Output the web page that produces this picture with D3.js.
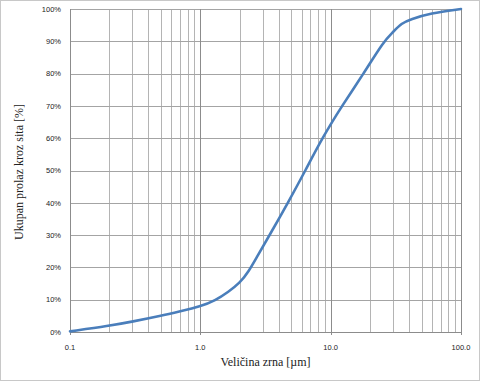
<!DOCTYPE html>
<html><head><meta charset="utf-8">
<script src="https://cdn.jsdelivr.net/npm/d3@7"></script>
<style>body{margin:0;background:#fff}</style>
</head><body><svg id="c" width="480" height="381"></svg>
<script>
const sizes = [0.1, 0.2, 0.3, 0.5, 0.7, 1.0, 1.3, 1.65, 2.0, 2.35, 2.73, 3.4, 4.7, 6.4, 8.6, 12.2, 17.9, 25.5, 30, 35, 41, 58, 100];
const passing = [0.2, 1.9, 3.2, 5.0, 6.4, 7.9, 9.7, 12.5, 15.1, 18.7, 23.4, 30, 40, 50, 60, 70, 80, 90, 92.8, 95.6, 96.8, 98.7, 100];
const xTicks = [0.1, 1, 10, 100];
const yTicks = [0,10,20,30,40,50,60,70,80,90,100];
const xTitle = "Veličina zrna [µm]";
const yTitle = "Ukupan prolaz kroz sita [%]";

const svg = d3.select("#c");
svg.append("rect").attr("x",0.5).attr("y",0.5).attr("width",479).attr("height",380)
  .attr("fill","#fff").attr("stroke","#c8c8c8");
const L=70, R=461, T=9, B=332;
const x = d3.scaleLog().domain([0.1,100]).range([L,R]);
const y = d3.scaleLinear().domain([0,100]).range([B,T]);

const minors = [];
for (let d of [0.1,1,10]) for (let k=2;k<=9;k++) minors.push(d*k);
svg.append("g").selectAll("line").data(minors).join("line")
  .attr("x1",d=>Math.round(x(d))+0.5).attr("x2",d=>Math.round(x(d))+0.5)
  .attr("y1",T).attr("y2",B).attr("stroke","#b4b4b4").attr("stroke-width",1);
svg.append("g").selectAll("line").data(yTicks).join("line")
  .attr("x1",L).attr("x2",R).attr("y1",d=>Math.round(y(d))+0.5).attr("y2",d=>Math.round(y(d))+0.5)
  .attr("stroke","#a4a4a4").attr("stroke-width",1);
svg.append("g").selectAll("line").data(xTicks).join("line")
  .attr("x1",d=>Math.round(x(d))+0.5).attr("x2",d=>Math.round(x(d))+0.5)
  .attr("y1",T).attr("y2",B+3).attr("stroke","#8c8c8c").attr("stroke-width",1);
svg.append("line").attr("x1",L+0.5).attr("x2",L+0.5).attr("y1",T).attr("y2",B+0.5).attr("stroke","#8c8c8c");
svg.append("line").attr("x1",L).attr("x2",R+0.5).attr("y1",B+0.5).attr("y2",B+0.5).attr("stroke","#8c8c8c");

svg.append("g").selectAll("text").data(yTicks).join("text")
  .attr("x",61).attr("y",d=>y(d)+2.7).attr("text-anchor","end")
  .attr("font-family","Liberation Sans, Arial").attr("font-size","7.5px").attr("fill","#222")
  .text(d=>d+"%");
svg.append("g").selectAll("text").data(xTicks).join("text")
  .attr("x",d=>x(d)).attr("y",349.5).attr("text-anchor","middle")
  .attr("font-family","Liberation Sans, Arial").attr("font-size","7.5px").attr("fill","#222")
  .text(d=>d.toFixed(1));

svg.append("text").attr("x",265.5).attr("y",366).attr("text-anchor","middle")
  .attr("font-family","Liberation Serif, serif").attr("font-size","12px").attr("fill","#222").text(xTitle);
svg.append("text").attr("transform","translate(23,172) rotate(-90)").attr("text-anchor","middle")
  .attr("font-family","Liberation Serif, serif").attr("font-size","12px").attr("fill","#222").text(yTitle);

const pts = sizes.map((s,i)=>[s,passing[i]]);
svg.append("path").datum(pts)
  .attr("d", d3.line().x(d=>x(d[0])).y(d=>y(d[1])).curve(d3.curveBasis))
  .attr("fill","none").attr("stroke","#4a7ebb").attr("stroke-width",2.6).attr("stroke-linecap","round");
</script></body></html>
